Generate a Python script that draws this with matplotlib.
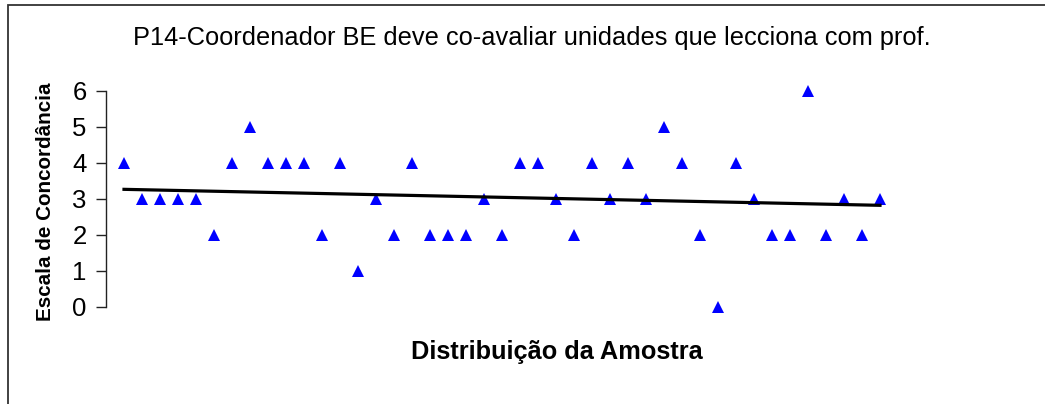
import numpy as np
import matplotlib
matplotlib.use("Agg")
import matplotlib.pyplot as plt
from matplotlib.patches import Rectangle

title = "P14-Coordenador BE deve co-avaliar unidades que lecciona com prof."
xlabel = "Distribuição da Amostra"
ylabel = "Escala de Concordância"
yticks = [0, 1, 2, 3, 4, 5, 6]
values = [4, 3, 3, 3, 3, 2, 4, 5, 4, 4, 4, 2, 4, 1, 3, 2, 4, 2, 2, 2, 3, 2,
          4, 4, 3, 2, 4, 3, 4, 3, 5, 4, 2, 0, 4, 3, 2, 2, 6, 2, 3, 2, 3]
sample = np.arange(1, len(values) + 1)

plt.rcParams['font.family'] = ['Liberation Sans', 'DejaVu Sans']

W, H = 1045, 404
fig = plt.figure(figsize=(W / 100, H / 100), dpi=100)

# outer chart border (extends beyond right/bottom edges)
fig.patches.append(Rectangle((8 / W, -0.05), 1.1, (H - 5) / H + 0.05,
                             transform=fig.transFigure, fill=False,
                             edgecolor='#333333', linewidth=1.3))

x0, x1 = 106, 898
y_top, y_bot = 91, 307
ax = fig.add_axes([x0 / W, 1 - y_bot / H, (x1 - x0) / W, (y_bot - y_top) / H])
ax.set_facecolor('none')

ax.plot(sample, values, linestyle='none', marker='^', markersize=9,
        color='#0000FF', markeredgewidth=0, clip_on=False, zorder=3)

coef = np.polyfit(sample, values, 1)
xs = np.array([sample[0], sample[-1]])
ax.plot(xs, np.polyval(coef, xs), color='black', linewidth=2.3, zorder=4)

ax.set_xlim(0, len(values) + 1)
ax.set_ylim(0, 6)
ax.set_yticks(yticks)
ax.set_xticks([])
for s in ['top', 'right', 'bottom']:
    ax.spines[s].set_visible(False)
ax.spines['left'].set_color('#222222')
ax.spines['left'].set_linewidth(1.0)
ax.tick_params(axis='y', direction='out', length=7, width=1.0, color='#222222',
               labelsize=18.5, pad=7)

fig.text(532 / W, 1 - 38 / H, title, ha='center', va='center', fontsize=18.3)
fig.text(46 / W, 1 - 202 / H, ylabel, ha='center', va='center', rotation=90,
         fontsize=14.9, fontweight='bold')
fig.text(557 / W, 1 - 352 / H, xlabel, ha='center', va='center',
         fontsize=18.3, fontweight='bold')

fig.savefig('out.png', dpi=100)
